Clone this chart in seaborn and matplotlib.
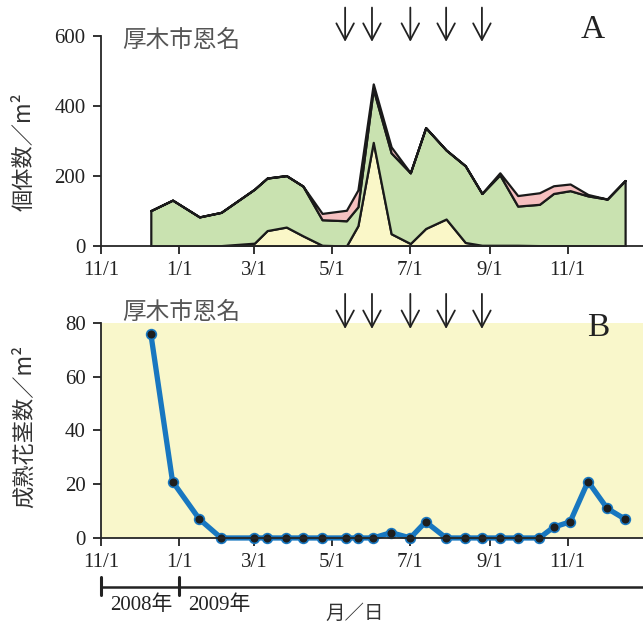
import numpy as np
import pandas as pd
import matplotlib
matplotlib.use("Agg")
import matplotlib.pyplot as plt
import matplotlib.dates as mdates
import matplotlib.transforms as mtransforms
import seaborn as sns

# sampling dates (2008/12 - 2009/12)
dates = ["2008-12-10", "2008-12-27", "2009-01-17", "2009-02-03", "2009-03-01",
         "2009-03-11", "2009-03-26", "2009-04-08", "2009-04-23", "2009-05-12",
         "2009-05-21", "2009-06-02", "2009-06-16", "2009-07-01", "2009-07-13",
         "2009-07-29", "2009-08-13", "2009-08-26", "2009-09-09", "2009-09-23",
         "2009-10-10", "2009-10-21", "2009-11-03", "2009-11-17", "2009-12-02",
         "2009-12-16"]

# panel A: stacked densities (individuals / m2)
yellow_layer = [0, 0, 0, 1, 8, 44, 54, 29, 2, 0, 58, 296, 35, 7, 50, 77, 10, 2, 2, 2, 1, 1, 1, 1, 0, 0]
green_layer = [101, 131, 83, 95, 154, 150, 147, 142, 73, 72, 54, 152, 231, 202, 288, 197, 219, 148,
               201, 112, 118, 149, 157, 142, 134, 187]
pink_layer = [0, 0, 0, 0, 0, 0, 0, 0, 18, 30, 48, 15, 17, 0, 0, 0, 0, 0, 6, 30, 33, 22, 19, 4, 0, 0]

# panel B: mature flowering stems / m2
stems = [76, 21, 7, 0, 0, 0, 0, 0, 0, 0, 0, 0, 2, 0, 6, 0, 0, 0, 0, 0, 0, 4, 6, 21, 11, 7]

# mowing dates (arrows)
arrow_dates = ["2009-05-11", "2009-06-01", "2009-07-01", "2009-07-29", "2009-08-26"]

tick_dates = ["2008-11-01", "2009-01-01", "2009-03-01", "2009-05-01", "2009-07-01",
              "2009-09-01", "2009-11-01"]
tick_labels = ["11/1", "1/1", "3/1", "5/1", "7/1", "9/1", "11/1"]
year_starts = ["2008-11-01", "2009-01-01"]
year_labels = ["2008年", "2009年"]

site = "厚木市恩名"

sns.set_style("ticks")
plt.rcParams["font.family"] = ["Liberation Serif", "Noto Sans CJK JP"]
plt.rcParams["axes.linewidth"] = 1.3

df = pd.DataFrame({"date": pd.to_datetime(dates), "stems": stems})
xmin, xmax = pd.Timestamp("2008-11-01"), pd.Timestamp("2009-12-30")

fig = plt.figure(figsize=(6.43, 6.27), dpi=100)
ax_a = fig.add_axes([0.157, 0.6077, 0.843, 0.335])
ax_b = fig.add_axes([0.157, 0.142, 0.843, 0.343])

jp = ["Noto Sans CJK JP", "DejaVu Sans"]


def style_axis(ax):
    sns.despine(ax=ax)
    ax.set_xlim(xmin, xmax)
    ax.set_xticks(pd.to_datetime(tick_dates))
    ax.set_xticklabels(tick_labels)
    ax.tick_params(axis="both", labelsize=15, length=6, width=1.3, color="#222222",
                   labelcolor="#222222", pad=5)
    ax.set_xlabel("")
    ax.grid(False)
    for d in mdates.date2num(pd.to_datetime(arrow_dates)):
        ax.annotate("", xy=(d, 0.972), xytext=(d, 1.135),
                    xycoords=ax.get_xaxis_transform(), textcoords=ax.get_xaxis_transform(),
                    arrowprops=dict(arrowstyle="->,head_length=0.85,head_width=0.45",
                                    color="#222222", lw=1.3, mutation_scale=14,
                                    shrinkA=0, shrinkB=0))


# ---- panel A ----
ax_a.stackplot(df["date"], yellow_layer, green_layer, pink_layer,
               colors=["#faf7c8", "#c9e2b0", "#f6c0c0"],
               edgecolor="#1a1a1a", linewidth=1.6)
ax_a.set_ylim(0, 600)
ax_a.set_yticks([0, 200, 400, 600])
style_axis(ax_a)
ax_a.set_ylabel("個体数／m²", family=jp, fontsize=16, color="#333333")
ax_a.yaxis.set_label_coords(-0.12, 0.45)
fig.text(0.190, 0.936, site, family=jp, fontsize=17, color="#555555", va="center")
fig.text(0.921, 0.952, "A", fontsize=24, color="#222222", ha="center", va="center")

# ---- panel B ----
ax_b.set_facecolor("#f9f7cb")
sns.lineplot(data=df, x="date", y="stems", ax=ax_b, color="#1877c0", linewidth=3.8,
             marker="o", markersize=7, markerfacecolor="#1e1e1e",
             markeredgecolor="#1877c0", markeredgewidth=1.2, clip_on=False)
ax_b.set_ylim(0, 80)
ax_b.set_yticks([0, 20, 40, 60, 80])
style_axis(ax_b)
ax_b.set_ylabel("成熟花茎数／m²", family=jp, fontsize=16, color="#333333")
ax_b.yaxis.set_label_coords(-0.12, 0.52)
fig.text(0.190, 0.501, site, family=jp, fontsize=17, color="#555555", va="center")
fig.text(0.930, 0.478, "B", fontsize=24, color="#222222", ha="center", va="center")

# year bracket under the date axis
trans = mtransforms.blended_transform_factory(ax_b.transData, fig.transFigure)
x0, x1 = mdates.date2num([xmin, pd.Timestamp("2010-01-31")])
ax_b.plot([x0, x1], [0.0638, 0.0638], color="#222222", lw=1.8,
          transform=trans, clip_on=False)
for d, lab in zip(mdates.date2num(pd.to_datetime(year_starts)), year_labels):
    ax_b.plot([d, d], [0.051, 0.079], color="#222222", lw=2.2, transform=trans, clip_on=False)
    ax_b.text(d + 7, 0.034, lab, transform=trans, fontsize=15,
              color="#222222", ha="left", va="center")
fig.text(0.552, 0.022, "月／日", family=jp, fontsize=14, color="#333333",
         ha="center", va="center")

fig.savefig("out.png", dpi=100)
plt.close(fig)
